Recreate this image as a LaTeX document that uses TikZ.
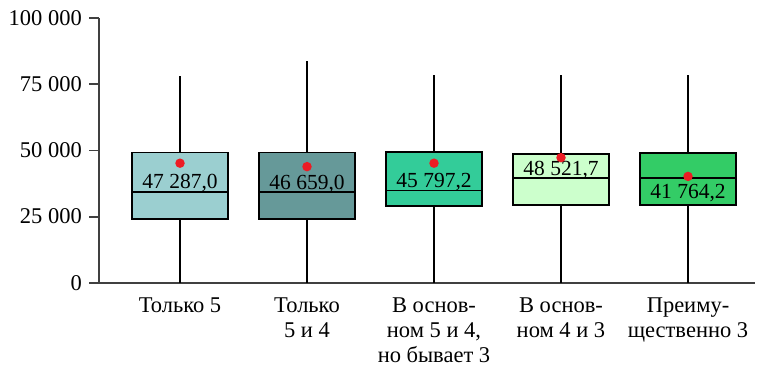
\documentclass[tikz,border=0pt]{standalone}
\usepackage{fontspec}
\setmainfont{Liberation Serif}
\usepackage{xcolor}
\usepackage{tikz}
\usetikzlibrary{positioning,calc}

\definecolor{boxA}{RGB}{155,207,208}
\definecolor{boxB}{RGB}{102,153,153}
\definecolor{boxC}{RGB}{51,204,153}
\definecolor{boxD}{RGB}{204,255,204}
\definecolor{boxE}{RGB}{51,204,102}
\definecolor{meanred}{RGB}{237,28,36}
\definecolor{axisgray}{RGB}{64,64,64}

\tikzset{
    axisline/.style={draw=axisgray, line width=1.8pt},
    whisker/.style={draw=black, line width=1.4pt},
    boxline/.style={draw=black, line width=1.6pt},
    meandot/.style={circle, fill=meanred, inner sep=0pt, minimum size=9.5pt},
    ticklab/.style={font=\fontsize{22.5}{25}\selectfont, inner sep=0pt},
    catlab/.style={font=\fontsize{22.5}{25}\selectfont, align=center, inner sep=0pt},
    vallab/.style={font=\fontsize{21.5}{24}\selectfont, anchor=base, inner sep=0pt}
}

\begin{document}
\begin{tikzpicture}[x=1pt, y=2.644pt]
    \useasboundingbox (-99,-31.88) rectangle (660,106.92);

    % Axes
    \coordinate (origin) at (0,0);
    \coordinate (ytop) at (0,100);
    \coordinate (xend) at (656,0);
    \draw[axisline] (ytop) -- (origin) -- (xend);
    \foreach \v/\t in {0/0, 25/25 000, 50/50 000, 75/75 000, 100/100 000} {
        \coordinate (tick\v) at (0,\v);
        \coordinate (tickend\v) at (-10,\v);
        \draw[axisline] (tick\v) -- (tickend\v);
        \node[ticklab, left=7pt of tickend\v] (lab\v) {\t};
    }

    % Boxes: lower quartile / median / upper quartile / whisker top / mean / label
    \foreach \i/\col/\qa/\md/\qb/\wt/\mn/\vy/\val in {
        1/boxA/24.1/34.3/49.2/78.2/45.2/35.7/{47 287,0},
        2/boxB/24.1/34.3/49.2/84.0/43.9/35.3/{46 659,0},
        3/boxC/29.0/34.8/49.5/78.6/45.2/35.9/{45 797,2},
        4/boxD/29.5/39.6/48.7/78.6/47.3/40.5/{48 521,7},
        5/boxE/29.5/39.6/49.1/78.6/40.2/31.7/{41 764,2}} {
        \pgfmathsetmacro\cx{81+127*(\i-1)}
        \coordinate (base\i) at (\cx,0);
        \coordinate (wtop\i) at (\cx,\wt);
        \coordinate (qlo\i) at (\cx-48,\qa);
        \coordinate (qhi\i) at (\cx+48,\qb);
        \coordinate (mdl\i) at (\cx-48,\md);
        \coordinate (mdr\i) at (\cx+48,\md);
        \draw[whisker] (base\i) -- (wtop\i);
        \draw[boxline, fill=\col] (qlo\i) rectangle (qhi\i);
        \draw[boxline] (mdl\i) -- (mdr\i);
        \node[vallab] (val\i) at (\cx,\vy) {\val};
        \node[meandot] (mean\i) at (\cx,\mn) {};
    }

    % Categories
    \foreach \i/\txt in {1/{Только 5}, 2/{Только\\5 и 4}, 3/{В основ-\\ном 5 и 4,\\но бывает 3},
        4/{В основ-\\ном 4 и 3}, 5/{Преиму-\\щественно 3}} {
        \node[catlab, below=14.4pt of base\i] (cat\i) {\txt};
    }
\end{tikzpicture}
\end{document}
